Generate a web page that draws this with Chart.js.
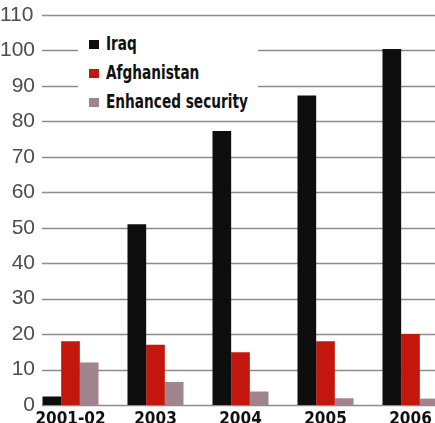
<!DOCTYPE html>
<html>
<head>
<meta charset="utf-8">
<script src="https://cdn.jsdelivr.net/npm/chart.js@4/dist/chart.umd.min.js"></script>
<style>
  html, body { margin: 0; padding: 0; background: #fff; }
  #wrap { position: relative; width: 435px; height: 423px; overflow: hidden; }
  #chart { position: absolute; left: 0; top: 0; }
  #legend {
    position: absolute; left: 78px; top: 28px; width: 180px; height: 86px;
    background: #fff;
    font-family: "DejaVu Sans Condensed", "Liberation Sans Narrow", sans-serif;
    font-weight: bold; font-size: 20px; color: #111;
  }
  #legend .item { position: absolute; left: 11px; height: 22px; line-height: 22px; white-space: nowrap; }
  #legend .box { display: inline-block; width: 10px; height: 9px; margin-right: 7px; vertical-align: 1px; }
  #legend .txt { display: inline-block; transform: scaleX(0.76); transform-origin: 0 50%; }
</style>
</head>
<body>
<div id="wrap">
  <canvas id="chart" width="463" height="440"></canvas>
  <div id="legend"></div>
</div>
<script>
  // ------------------------
  // Data
  // ------------------------
  const years = ["2001-02", "2003", "2004", "2005", "2006"];
  const iraq = [2.4, 51, 77.3, 87.3, 100.4];
  const afghanistan = [18, 17, 14.9, 18, 20];
  const enhancedSecurity = [12, 6.5, 3.8, 1.9, 1.8];
  const yTicks = [0, 10, 20, 30, 40, 50, 60, 70, 80, 90, 100, 110];

  const seriesNames = ["Iraq", "Afghanistan", "Enhanced security"];
  const seriesColors = ["#0e0e0e", "#c3170e", "#a0848e"];

  // grid lines start a bit right of the axis, like the original
  const gridPlugin = {
    id: "gridFrom",
    beforeDatasetsDraw(chart) {
      const { ctx, chartArea, scales } = chart;
      ctx.save();
      ctx.strokeStyle = "#8c8c8c";
      ctx.lineWidth = 1.6;
      yTicks.forEach(v => {
        const y = Math.round(scales.y.getPixelForValue(v)) + 0.5;
        ctx.beginPath();
        ctx.moveTo(42, y);
        ctx.lineTo(chartArea.right + 10, y);
        ctx.stroke();
      });
      ctx.restore();
    }
  };

  const ctx = document.getElementById("chart").getContext("2d");
  new Chart(ctx, {
    type: "bar",
    data: {
      labels: years,
      datasets: [iraq, afghanistan, enhancedSecurity].map((d, i) => ({
        label: seriesNames[i],
        data: d,
        backgroundColor: seriesColors[i],
        borderWidth: 0,
        barPercentage: 1,
        categoryPercentage: 0.659
      }))
    },
    options: {
      responsive: false,
      animation: false,
      devicePixelRatio: 1,
      layout: { padding: { top: 15, right: 10, left: 0, bottom: 0 } },
      plugins: { legend: { display: false }, tooltip: { enabled: false } },
      scales: {
        x: {
          grid: { display: false, drawTicks: false },
          border: { display: false },
          ticks: {
            color: "#111",
            padding: 4,
            maxRotation: 0,
            autoSkip: false,
            font: { family: '"DejaVu Sans Condensed", sans-serif', weight: "bold", size: 17 }
          },
          afterFit: s => { s.height = 35; }
        },
        y: {
          min: 0,
          max: 110,
          grid: { display: false, drawTicks: false },
          border: { display: false },
          afterFit: s => { s.width = 28; },
          afterBuildTicks: s => { s.ticks = yTicks.map(v => ({ value: v })); },
          ticks: {
            color: "#4d4d4d",
            mirror: true,
            padding: -28,
            // figure spaces keep the numbers right aligned
            callback: v => String(v).padStart(3, "\u2007"),
            font: { family: '"Liberation Sans", Arial, sans-serif', size: 21 }
          }
        }
      }
    },
    plugins: [gridPlugin]
  });

  // legend with white box over the grid
  const legend = document.getElementById("legend");
  seriesNames.forEach((name, i) => {
    const el = document.createElement("div");
    el.className = "item";
    el.style.top = (4 + i * 29) + "px";
    el.innerHTML = '<span class="box" style="background:' + seriesColors[i] + '"></span><span class="txt">' + name + '</span>';
    legend.appendChild(el);
  });
</script>
</body>
</html>
